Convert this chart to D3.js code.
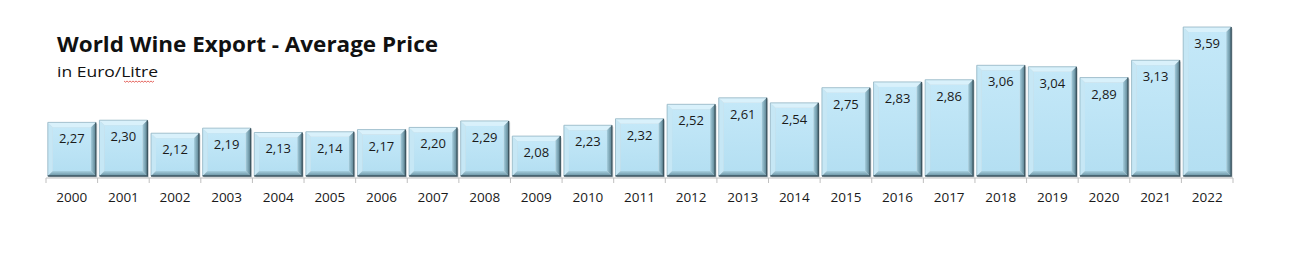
<!DOCTYPE html>
<html>
<head>
<meta charset="utf-8">
<script src="https://cdn.jsdelivr.net/npm/d3@7"></script>
<style>
  body { margin: 0; background: #fff; }
  svg { display: block; font-family: "Open Sans", sans-serif; }
</style>
</head>
<body>
<div id="chart"></div>
<script>
// Data
const years = ["2000", "2001", "2002", "2003", "2004", "2005", "2006", "2007", "2008", "2009", "2010", "2011",
    "2012", "2013", "2014", "2015", "2016", "2017", "2018", "2019", "2020", "2021", "2022"];
const prices = [2.27, 2.30, 2.12, 2.19, 2.13, 2.14, 2.17, 2.20, 2.29, 2.08, 2.23, 2.32,
    2.52, 2.61, 2.54, 2.75, 2.83, 2.86, 3.06, 3.04, 2.89, 3.13, 3.59];

const data = years.map((y, i) => ({ year: y, value: prices[i] }));

const width = 1292, height = 263;
const axisY = 178;

const svg = d3.select("#chart").append("svg")
    .attr("width", width)
    .attr("height", height);

const x = d3.scaleBand()
    .domain(years)
    .range([46, 1233])
    .paddingInner(0.07)
    .paddingOuter(0.035);

const y = d3.scaleLinear()
    .domain([1.5, 3.6])
    .range([axisY, 26.3]);

const fmt = v => d3.format(".2f")(v).replace(".", ",");

// Title
svg.append("text")
    .attr("x", 57).attr("y", 52)
    .attr("font-size", 21.5)
    .attr("font-weight", "bold")
    .attr("fill", "#111")
    .attr("textLength", 381)
    .attr("lengthAdjust", "spacingAndGlyphs")
    .text("World Wine Export - Average Price");

svg.append("text")
    .attr("x", 57).attr("y", 77)
    .attr("font-size", 15)
    .attr("fill", "#111")
    .attr("textLength", 101)
    .attr("lengthAdjust", "spacingAndGlyphs")
    .text("in Euro/Litre");

// spell-check squiggle under "Litre"
const sq = d3.range(0, 31, 1.5).map((d, i) => [124 + d, 81 + (i % 2 ? 1.2 : 0)]);
svg.append("path")
    .attr("d", d3.line()(sq))
    .attr("fill", "none")
    .attr("stroke", "#e0443c")
    .attr("stroke-width", 0.8);

const defs = svg.append("defs");
const grad = defs.append("linearGradient")
    .attr("id", "face")
    .attr("x1", 0).attr("y1", 0).attr("x2", 0).attr("y2", 1);
grad.append("stop").attr("offset", "0%").attr("stop-color", "#c4e8f8");
grad.append("stop").attr("offset", "100%").attr("stop-color", "#b4dff2");

const rgrad = defs.append("linearGradient")
    .attr("id", "rside")
    .attr("x1", 0).attr("y1", 0).attr("x2", 1).attr("y2", 0);
rgrad.append("stop").attr("offset", "0%").attr("stop-color", "#a6cfdf");
rgrad.append("stop").attr("offset", "100%").attr("stop-color", "#587f8e");

const bgrad = defs.append("linearGradient")
    .attr("id", "bside")
    .attr("x1", 0).attr("y1", 0).attr("x2", 0).attr("y2", 1);
bgrad.append("stop").attr("offset", "0%").attr("stop-color", "#a6cfdf");
bgrad.append("stop").attr("offset", "100%").attr("stop-color", "#6790a0");

// Bars
const bevel = 5;
const bars = svg.append("g").selectAll("g.bar")
    .data(data)
    .enter()
    .append("g")
    .attr("class", "bar");

bars.each(function (d) {
    const g = d3.select(this);
    const x0 = x(d.year), x1 = x0 + x.bandwidth();
    const y0 = y(d.value), y1 = axisY - 2;

    // soft shadow right/bottom
    g.append("rect")
        .attr("x", x0 + 1.5).attr("y", y0 + 1.5)
        .attr("width", x.bandwidth()).attr("height", y1 - y0)
        .attr("fill", "#9aa7ad").attr("opacity", 0.45);

    const poly = (pts, fill) => g.append("polygon")
        .attr("points", pts.map(p => p.join(",")).join(" "))
        .attr("fill", fill);

    // top bevel
    poly([[x0, y0], [x1, y0], [x1 - bevel, y0 + bevel], [x0 + bevel, y0 + bevel]], "#d9f1fb");
    // left bevel
    poly([[x0, y0], [x0 + bevel, y0 + bevel], [x0 + bevel, y1 - bevel], [x0, y1]], "#c6e7f5");
    // right bevel
    poly([[x1, y0], [x1, y1], [x1 - bevel, y1 - bevel], [x1 - bevel, y0 + bevel]], "url(#rside)");
    // bottom bevel
    poly([[x0, y1], [x1, y1], [x1 - bevel, y1 - bevel], [x0 + bevel, y1 - bevel]], "url(#bside)");

    // face
    g.append("rect")
        .attr("x", x0 + bevel).attr("y", y0 + bevel)
        .attr("width", x.bandwidth() - 2 * bevel).attr("height", y1 - y0 - 2 * bevel)
        .attr("fill", "url(#face)");

    // thin light outline top/left, dark right/bottom
    g.append("path")
        .attr("d", `M${x0},${y1}L${x0},${y0}L${x1},${y0}`)
        .attr("fill", "none")
        .attr("stroke", "#8fb3c1")
        .attr("stroke-width", 0.8);
    g.append("path")
        .attr("d", `M${x1},${y0}L${x1},${y1}L${x0},${y1}`)
        .attr("fill", "none")
        .attr("stroke", "#3d5661")
        .attr("stroke-width", 1.3);

    // value label
    g.append("text")
        .attr("x", (x0 + x1) / 2)
        .attr("y", y0 + 21)
        .attr("text-anchor", "middle")
        .attr("font-size", 13)
        .attr("fill", "#1a1a1a")
        .text(fmt(d.value));
});

// X axis
const axis = svg.append("g")
    .attr("transform", `translate(0,${axisY})`);

axis.append("line")
    .attr("x1", 46).attr("x2", 1233)
    .attr("stroke", "#bfbfbf").attr("stroke-width", 1);

const bounds = d3.range(years.length + 1).map(i => x.range()[0] + i * (x.range()[1] - x.range()[0]) / years.length);
axis.selectAll(".tick-b")
    .data(bounds)
    .enter()
    .append("line")
    .attr("x1", d => d).attr("x2", d => d)
    .attr("y1", 0).attr("y2", 5)
    .attr("stroke", "#bfbfbf");

axis.selectAll(".yr")
    .data(years)
    .enter()
    .append("text")
    .attr("x", d => x(d) + x.bandwidth() / 2)
    .attr("y", 24)
    .attr("text-anchor", "middle")
    .attr("font-size", 13.5)
    .attr("fill", "#1a1a1a")
    .text(d => d);
</script>
</body>
</html>
